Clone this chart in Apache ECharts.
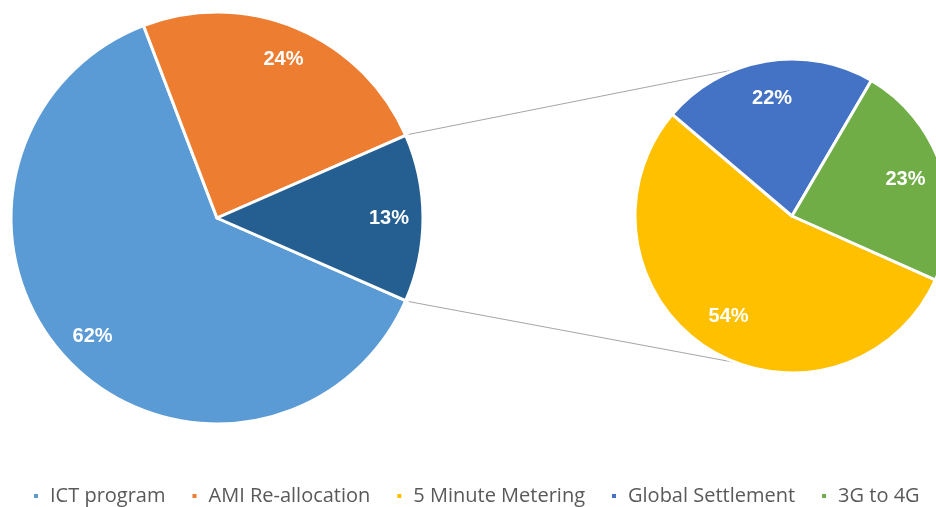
<!DOCTYPE html>
<html>
<head>
<meta charset="utf-8">
<title>ICT program cost split</title>
<script src="https://cdn.jsdelivr.net/npm/echarts@6/dist/echarts.min.js"></script>
<style>
  html, body { margin: 0; padding: 0; background: #ffffff; }
  #chart { width: 936px; height: 507px; }
</style>
</head>
<body>
<div id="chart"></div>
<script>
// Primary split of the program budget (percent)
const mainNames  = ['ICT program', 'AMI Re-allocation', 'Other'];
const mainValues = [62, 24, 13];
const mainColors = ['#5B9BD5', '#ED7D31', '#255E91'];

// Breakdown of the "Other" share (percent)
const subNames  = ['5 Minute Metering', 'Global Settlement', '3G to 4G'];
const subValues = [54, 22, 23];
const subColors = ['#FFC000', '#4472C4', '#70AD47'];

// Legend entries
const legendNames = ['ICT program', 'AMI Re-allocation', '5 Minute Metering', 'Global Settlement', '3G to 4G'];

const MAIN_CENTER = [217, 218];
const MAIN_R = 206;
const SUB_CENTER = [792, 216];
const SUB_R = 157;

// Rotate the main pie so the "Other" slice faces the breakdown pie
const mainTotal = mainValues.reduce((a, b) => a + b, 0);
const otherSweep = mainValues[2] / mainTotal * 360;
const mainStart = -otherSweep / 2;
const subStart = -24;

function toData(names, values, colors) {
  return names.map((n, i) => ({ name: n, value: values[i], itemStyle: colors ? { color: colors[i] } : undefined }));
}

const labelStyle = {
  show: true,
  position: 'inside',
  formatter: '{c}%',
  color: '#ffffff',
  fontFamily: 'Liberation Sans, Arial, sans-serif',
  fontWeight: 'bold',
  fontSize: 20
};

const chart = echarts.init(document.getElementById('chart'), null, { renderer: 'canvas' });

chart.setOption({
  animation: false,
  backgroundColor: '#ffffff',
  legend: {
    data: legendNames,
    left: 27,
    top: 480,
    width: 905,
    icon: 'rect',
    itemWidth: 6,
    itemHeight: 6,
    itemGap: 25,
    selectedMode: false,
    textStyle: {
      fontFamily: 'Open Sans, sans-serif',
      fontSize: 20,
      color: '#595959',
      lineHeight: 22,
      padding: [0, 0, 0, 6]
    }
  },
  series: [
    {
      type: 'pie',
      center: MAIN_CENTER,
      radius: [0, MAIN_R],
      startAngle: mainStart,
      clockwise: true,
      data: toData(mainNames, mainValues, mainColors),
      itemStyle: { borderColor: '#ffffff', borderWidth: 3 },
      label: { show: false },
      labelLine: { show: false },
      emphasis: { disabled: true },
      z: 2
    },
    {
      type: 'pie',
      center: SUB_CENTER,
      radius: [0, SUB_R],
      startAngle: subStart,
      clockwise: true,
      data: toData(subNames, subValues, subColors),
      itemStyle: { borderColor: '#ffffff', borderWidth: 3 },
      label: { show: false },
      labelLine: { show: false },
      emphasis: { disabled: true },
      z: 2
    },
    // Transparent rings that carry the percentage labels near the rim
    {
      type: 'pie',
      silent: true,
      center: MAIN_CENTER,
      radius: [MAIN_R * 0.64, MAIN_R],
      startAngle: mainStart,
      clockwise: true,
      data: toData(mainNames, mainValues),
      itemStyle: { color: 'rgba(0,0,0,0)', borderWidth: 0 },
      label: labelStyle,
      labelLine: { show: false },
      emphasis: { disabled: true },
      z: 3
    },
    {
      type: 'pie',
      silent: true,
      center: SUB_CENTER,
      radius: [SUB_R * 0.48, SUB_R],
      startAngle: subStart,
      clockwise: true,
      data: toData(subNames, subValues),
      itemStyle: { color: 'rgba(0,0,0,0)', borderWidth: 0 },
      label: labelStyle,
      labelLine: { show: false },
      emphasis: { disabled: true },
      z: 3
    }
  ]
});

// Connector lines from the edges of the "Other" slice to the breakdown pie
(function drawConnectors() {
  const model = chart.getModel();
  const other = model.getSeriesByIndex(0).getData().getItemLayout(2);
  const sub = model.getSeriesByIndex(1).getData().getItemLayout(0);
  const attach = 111 * Math.PI / 180; // angle on the breakdown pie, from 3 o'clock
  const pStart = [other.cx + other.r * Math.cos(other.startAngle), other.cy + other.r * Math.sin(other.startAngle)];
  const pEnd = [other.cx + other.r * Math.cos(other.endAngle), other.cy + other.r * Math.sin(other.endAngle)];
  const upper = pStart[1] < pEnd[1] ? pStart : pEnd;
  const lower = pStart[1] < pEnd[1] ? pEnd : pStart;
  const subTop = [sub.cx + sub.r * Math.cos(-attach), sub.cy + sub.r * Math.sin(-attach)];
  const subBottom = [sub.cx + sub.r * Math.cos(attach), sub.cy + sub.r * Math.sin(attach)];
  const lineStyle = { stroke: '#A6A6A6', lineWidth: 1 };
  chart.setOption({
    graphic: [
      { type: 'line', z: 1, shape: { x1: upper[0] + 3, y1: upper[1] - 1, x2: subTop[0], y2: subTop[1] }, style: lineStyle, silent: true },
      { type: 'line', z: 1, shape: { x1: lower[0] + 3, y1: lower[1] + 1, x2: subBottom[0], y2: subBottom[1] }, style: lineStyle, silent: true }
    ]
  });
})();
</script>
</body>
</html>
